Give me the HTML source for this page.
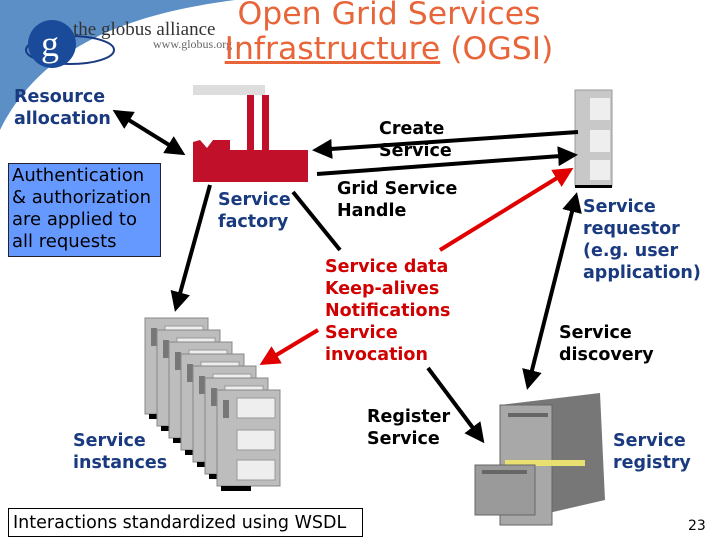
<!DOCTYPE html>
<html><head><style>
body{margin:0;width:720px;height:540px;overflow:hidden;background:#fff;position:relative;font-family:"DejaVu Sans",Verdana,sans-serif}
.t{position:absolute;font-weight:bold;font-size:17.5px;line-height:22px;white-space:nowrap}
.b{color:#1a3a80}.k{color:#000}.r{color:#d00000}
</style></head><body>
<svg width="720" height="540" style="position:absolute;left:0;top:0">
<defs>
<marker id="a" markerWidth="5" markerHeight="5" refX="4" refY="2.5" orient="auto" markerUnits="strokeWidth"><path d="M0,0L5,2.5L0,5z" fill="#000"/></marker>
<marker id="ar" markerWidth="5" markerHeight="5" refX="4" refY="2.5" orient="auto" markerUnits="strokeWidth"><path d="M0,0L5,2.5L0,5z" fill="#e00000"/></marker>
<marker id="s" markerWidth="5" markerHeight="5" refX="1" refY="2.5" orient="auto" markerUnits="strokeWidth"><path d="M5,0L0,2.5L5,5z" fill="#000"/></marker>
<g id="srv"><rect width="63" height="96" fill="#bdbdbd" stroke="#888"/><rect x="6" y="10" width="6" height="18" fill="#777"/><rect x="20" y="8" width="38" height="20" fill="#eee" stroke="#999"/><rect x="20" y="40" width="38" height="20" fill="#eee" stroke="#999"/><rect x="20" y="70" width="38" height="20" fill="#eee" stroke="#999"/><rect x="4" y="96" width="30" height="5" fill="#000"/></g>
</defs>
<path d="M0,0 H235 C120,15 40,50 0,130Z" fill="#5b8fc6"/>
<ellipse cx="70" cy="50" rx="44" ry="14" fill="none" stroke="#1a3a80" stroke-width="2"/>
<circle cx="52" cy="44" r="24" fill="#1a4a9a"/>
<text x="41" y="56" font-family="Liberation Serif" font-size="36" fill="#fff">g</text>
<text x="73" y="35" font-family="Liberation Serif" font-size="19" fill="#333">the globus alliance</text>
<text x="153" y="48" font-family="Liberation Serif" font-size="12" fill="#666">www.globus.org</text>
<rect x="193" y="85" width="72" height="10" fill="#ddd"/>
<rect x="247" y="95" width="7" height="55" fill="#c0102a"/><rect x="262" y="95" width="7" height="55" fill="#c0102a"/>
<path d="M193,182 V142 L200,140 L207,148 L213,140 L230,140 L230,150 L308,150 V182Z" fill="#c0102a"/>
<rect x="575" y="90" width="37" height="96" fill="#c8c8c8" stroke="#999"/>
<rect x="590" y="98" width="20" height="22" fill="#eee"/><rect x="590" y="130" width="20" height="22" fill="#eee"/><rect x="590" y="160" width="20" height="20" fill="#eee"/>
<rect x="575" y="185" width="37" height="3" fill="#000"/>
<use href="#srv" x="145" y="318"/><use href="#srv" x="157" y="330"/><use href="#srv" x="169" y="342"/><use href="#srv" x="181" y="354"/><use href="#srv" x="193" y="366"/><use href="#srv" x="205" y="378"/><use href="#srv" x="217" y="390"/>
<path d="M500,405 L600,393 L605,500 L540,515Z" fill="#777"/>
<rect x="500" y="405" width="52" height="120" fill="#a8a8a8" stroke="#666"/>
<rect x="508" y="413" width="40" height="4" fill="#666"/>
<rect x="505" y="460" width="80" height="6" fill="#e8e070"/>
<rect x="475" y="465" width="60" height="50" fill="#9a9a9a" stroke="#666"/>
<rect x="482" y="470" width="45" height="4" fill="#666"/>
<g stroke="#000" stroke-width="4" fill="none">
<line x1="116" y1="112" x2="182" y2="153" marker-end="url(#a)" marker-start="url(#s)"/>
<line x1="578" y1="132" x2="316" y2="150" marker-end="url(#a)"/>
<line x1="317" y1="174" x2="574" y2="155" marker-end="url(#a)"/>
<line x1="576" y1="196" x2="528" y2="386" marker-end="url(#a)" marker-start="url(#s)"/>
<line x1="210" y1="185" x2="176" y2="308" marker-end="url(#a)"/>
<line x1="293" y1="192" x2="340" y2="250"/>
<line x1="428" y1="368" x2="482" y2="440" marker-end="url(#a)"/>
</g>
<g stroke="#e00000" stroke-width="4">
<line x1="440" y1="250" x2="570" y2="170" marker-end="url(#ar)"/>
<line x1="318" y1="330" x2="263" y2="363" marker-end="url(#ar)"/>
</g>
</svg>
<div style="position:absolute;left:200px;top:-3px;width:378px;text-align:center;color:#e8653a;font-family:'DejaVu Sans',sans-serif;font-size:31.5px;line-height:35px">Open Grid Services<br><u>Infrastructure</u> (OGSI)</div>
<div class="t b" style="left:14px;top:86px">Resource<br>allocation</div>
<div style="position:absolute;left:8px;top:163px;width:151px;height:92px;background:#6699ff;border:1px solid #223"></div>
<div class="t k" style="left:12px;top:165px;font-weight:normal;font-size:18px">Authentication<br>&amp; authorization<br>are applied to<br>all requests</div>
<div class="t b" style="left:218px;top:189px">Service<br>factory</div>
<div class="t k" style="left:379px;top:118px">Create<br>Service</div>
<div class="t k" style="left:337px;top:178px">Grid Service<br>Handle</div>
<div class="t r" style="left:325px;top:256px">Service data<br>Keep-alives<br>Notifications<br>Service<br>invocation</div>
<div class="t b" style="left:583px;top:196px">Service<br>requestor<br>(e.g. user<br>application)</div>
<div class="t k" style="left:559px;top:322px">Service<br>discovery</div>
<div class="t k" style="left:367px;top:406px">Register<br>Service</div>
<div class="t b" style="left:613px;top:430px">Service<br>registry</div>
<div class="t b" style="left:73px;top:430px">Service<br>instances</div>
<div style="position:absolute;left:8px;top:508px;width:355px;height:29px;border:1px solid #000;background:#fff;font-size:17.5px;line-height:28px;padding-left:4px;box-sizing:border-box;white-space:nowrap">Interactions standardized using WSDL</div>
<div style="position:absolute;left:688px;top:518px;font-size:14px">23</div>
</body></html>
